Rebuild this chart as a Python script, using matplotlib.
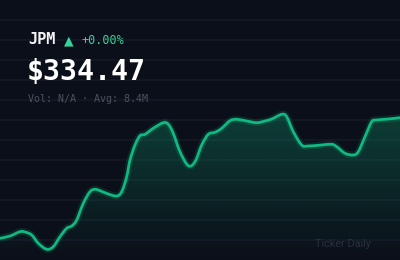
"""Ticker card: JPM intraday sparkline on a dark background."""

import matplotlib
matplotlib.use("Agg")
import matplotlib.pyplot as plt
import numpy as np
from matplotlib.path import Path
from matplotlib.patches import PathPatch

# --- data ---
ticker = "JPM"
change_pct = "+0.00%"
last_price = "$334.47"
sub_line = "Vol: N/A \u00b7 Avg: 8.4M"
watermark = "Ticker Daily"

t = [0, 10, 20, 25, 31.7, 38.3, 46.7, 53.3, 60, 66.7, 71.7, 76.7, 83.3, 90, 95,
     100, 108.3, 116.7, 121.7, 126.7, 130, 135, 140, 145, 153.3, 163.3, 168.3,
     173.3, 180, 188.3, 195, 201.7, 208.3, 215, 221.7, 230, 236.7, 246.7, 256.7,
     265, 271.7, 281.7, 286.7, 293.3, 301.7, 308.3, 321.7, 331.7, 336.7, 345,
     353.3, 358.3, 365, 371.7, 376.7, 388.3, 400]
px = [238.3, 236, 231.7, 232, 235, 243.3, 249.3, 246.7, 236.7, 228.3, 226, 220,
      203.3, 191.7, 189.3, 190.7, 194, 196, 191.7, 176.7, 160, 145, 135.7, 134.3,
      128.3, 122.7, 124.3, 133.3, 151.7, 165.7, 161.7, 145, 134.3, 132.3, 128.3,
      120.7, 119.3, 121, 122.7, 121, 119, 114.3, 116.7, 131.7, 145, 146, 145,
      144.3, 146.7, 153.3, 155, 151.7, 136.7, 121.7, 120, 119, 117.7]
# screen rows -> price (0.1 $ per pixel row, last row = last price)
price = [334.47 + (117.7 - v) * 0.1 for v in px]

BG = "#0b0f19"
GREEN = "#10b981"
GRID = "#141925"

W, H = 400, 260
y_top = 334.47 + 117.7 * 0.1
y_bot = y_top - 26.0


def smooth_path(x, y, close_to=None):
    """Catmull-Rom through the data points, drawn as cubic Bezier segments."""
    p = np.column_stack([x, y])
    verts = [p[0]]
    codes = [Path.MOVETO]
    n = len(p)
    for i in range(n - 1):
        p0 = p[max(i - 1, 0)]
        p1, p2 = p[i], p[i + 1]
        p3 = p[min(i + 2, n - 1)]
        verts += [p1 + (p2 - p0) / 6, p2 - (p3 - p1) / 6, p2]
        codes += [Path.CURVE4] * 3
    if close_to is not None:
        verts += [(x[-1], close_to), (x[0], close_to), p[0]]
        codes += [Path.LINETO, Path.LINETO, Path.CLOSEPOLY]
    return Path(verts, codes)


fig = plt.figure(figsize=(W / 100, H / 100), dpi=100, facecolor=BG)
ax = fig.add_axes([0, 0, 1, 1])
ax.set_facecolor(BG)
ax.set_xlim(0, 400)
ax.set_ylim(y_bot, y_top)
ax.axis("off")

for gy in np.arange(y_top - 2.0, y_bot + 1.0, -2.0):
    ax.axhline(gy, color=GRID, lw=1.2, zorder=0)

x = np.array(t)
y = np.array(price)

# gradient fill under the curve
grad = np.zeros((256, 2, 4))
grad[..., :3] = matplotlib.colors.to_rgb(GREEN)
grad[..., 3] = np.linspace(0.28, 0.0, 256)[:, None]
img = ax.imshow(grad, extent=[0, 400, y_bot, max(y)], aspect="auto",
                origin="upper", zorder=1, interpolation="bilinear")
img.set_clip_path(smooth_path(x, y, close_to=y_bot), transform=ax.transData)

# glow + line
line_path = smooth_path(x, y)
ax.add_patch(PathPatch(line_path, fc="none", ec=GREEN, lw=5, alpha=0.15,
                       capstyle="round", joinstyle="round", zorder=2))
ax.add_patch(PathPatch(line_path, fc="none", ec=GREEN, lw=2,
                       capstyle="round", joinstyle="round", zorder=3))

mono = ["DejaVu Sans Mono"]
fig.text(28 / W, 1 - 39 / H, ticker, color="#f3f4f6", fontsize=11,
         fontweight="bold", family=mono, va="center", ha="left")
fig.text(64 / W, 1 - 40.5 / H, "\u25b2", color="#34d399", fontsize=9,
         family=["DejaVu Sans"], va="center", ha="left")
fig.text(81 / W, 1 - 40 / H, change_pct, color="#34d399", fontsize=8.5,
         family=mono, va="center", ha="left")
fig.text(27 / W, 1 - 72 / H, last_price, color="#ffffff", fontsize=20.3,
         fontweight="bold", family=mono, va="center", ha="left")
fig.text(28 / W, 1 - 99 / H, sub_line, color="#4b5261", fontsize=7.2,
         family=mono, va="center", ha="left")
fig.text(315 / W, 1 - 244 / H, watermark, color="#2a3040", fontsize=7.8,
         family=["Roboto", "DejaVu Sans"], va="center", ha="left")

fig.savefig("out.png", dpi=100, facecolor=BG)
